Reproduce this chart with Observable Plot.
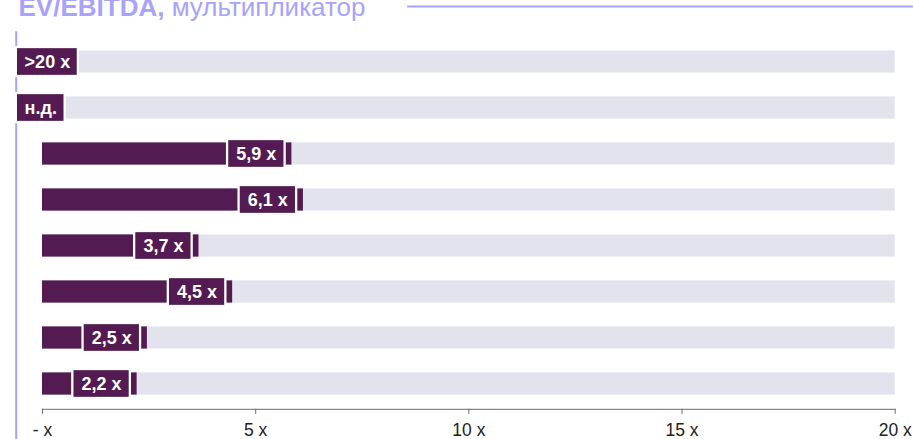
<!DOCTYPE html>
<html>
<head>
<meta charset="utf-8">
<script src="https://cdn.jsdelivr.net/npm/d3@7"></script>
<script src="https://cdn.jsdelivr.net/npm/@observablehq/plot@0.6"></script>
<style>
  html, body { margin: 0; padding: 0; background: #fff; }
  #chart svg { display: block; }
</style>
</head>
<body>
<div id="chart"></div>
<script>
// ---- data ----
const rows = ["1", "2", "3", "4", "5", "6", "7", "8"];
const values = [null, null, 5.85, 6.12, 3.67, 4.46, 2.46, 2.22];
const labels = [">20 x", "н.д.", "5,9 x", "6,1 x", "3,7 x", "4,5 x", "2,5 x", "2,2 x"];
const xTicks = [0, 5, 10, 15, 20];
const xTickLabels = ["- x", "5 x", "10 x", "15 x", "20 x"];
const xMax = 20;
const titleBold = "EV/EBITDA,";
const titleRest = "мультипликатор";

// ---- style ----
const W = 913, H = 439;
const mL = 42, mR = 18.3, mT = 36.3, mB = 30.2;
const dark = "#531b52";
const track = "#e3e3ee";
const lavender = "#a7a3fc";
const font = "'Liberation Sans', Arial, sans-serif";
const labelSize = 18;

const k = (W - mL - mR) / xMax; // px per unit (matches the x scale)
const ctx = document.createElement("canvas").getContext("2d");
ctx.font = `bold ${labelSize}px 'Liberation Sans', Arial`;

const table = rows.map((r, i) => {
  const v = values[i];
  const tw = ctx.measureText(labels[i]).width;
  let x1, x2;
  if (v == null) {
    x1 = -26.15 / k;
    x2 = x1 + (tw + 16.5) / k;
  } else {
    x2 = v - 6.8 / k;
    x1 = x2 - (tw + 17.5) / k;
  }
  return {row: r, value: v, label: labels[i], bx1: x1, bx2: x2, bc: (x1 + x2) / 2};
});

const chart = Plot.plot({
  width: W,
  height: H,
  marginLeft: mL,
  marginRight: mR,
  marginTop: mT,
  marginBottom: mB,
  style: {fontFamily: font, background: "#fff", overflow: "visible"},
  x: {domain: [0, xMax]},
  y: {type: "band", domain: rows, paddingInner: 0.5, paddingOuter: 0.25, axis: null},
  marks: [
    // decorative left line
    Plot.frame({anchor: "left", dx: -26.3, insetTop: -4.6, insetBottom: -mB, stroke: lavender, strokeWidth: 2}),
    // decorative top line
    Plot.frame({anchor: "top", dy: -30.3, insetLeft: 365.7, insetRight: -mR, stroke: lavender, strokeWidth: 2}),
    // tracks
    Plot.barX(table, {x1: 0, x2: xMax, y: "row", fill: track, insetTop: 0.4, insetBottom: 0.4}),
    // value bars
    Plot.barX(table.filter(d => d.value != null), {x1: 0, x2: "value", y: "row", fill: dark, insetTop: 0.4, insetBottom: 0.4}),
    // label boxes
    Plot.barX(table, {x1: "bx1", x2: "bx2", y: "row", fill: dark, stroke: "#fff", strokeWidth: 2.3, insetTop: -3, insetBottom: -3}),
    Plot.text(table, {x: "bc", y: "row", text: "label", fill: "#fff", fontWeight: "bold", fontSize: labelSize, textAnchor: "middle"}),
    // axis
    Plot.frame({anchor: "bottom", stroke: "#6b6b6b", strokeWidth: 1}),
    Plot.axisX({
      ticks: xTicks,
      tickFormat: d => xTickLabels[xTicks.indexOf(d)],
      tickSize: 5,
      tickPadding: 9,
      fontSize: 17.5,
      stroke: "#6b6b6b",
      fill: "#222",
      label: null
    }),
    // title
    Plot.text([titleBold + " " + titleRest], {
      frameAnchor: "top-left",
      dx: -24,
      dy: -20.8,
      lineAnchor: "bottom",
      textAnchor: "start",
      fontSize: 26,
      fill: lavender,
      className: "title-text"
    })
  ]
});

// split title into bold + regular parts
d3.select(chart).selectAll(".title-text text").each(function () {
  const t = d3.select(this);
  t.text(null);
  t.append("tspan").attr("font-weight", "bold").text(titleBold);
  t.append("tspan").text(" " + titleRest);
});

document.getElementById("chart").appendChild(chart);
</script>
</body>
</html>
